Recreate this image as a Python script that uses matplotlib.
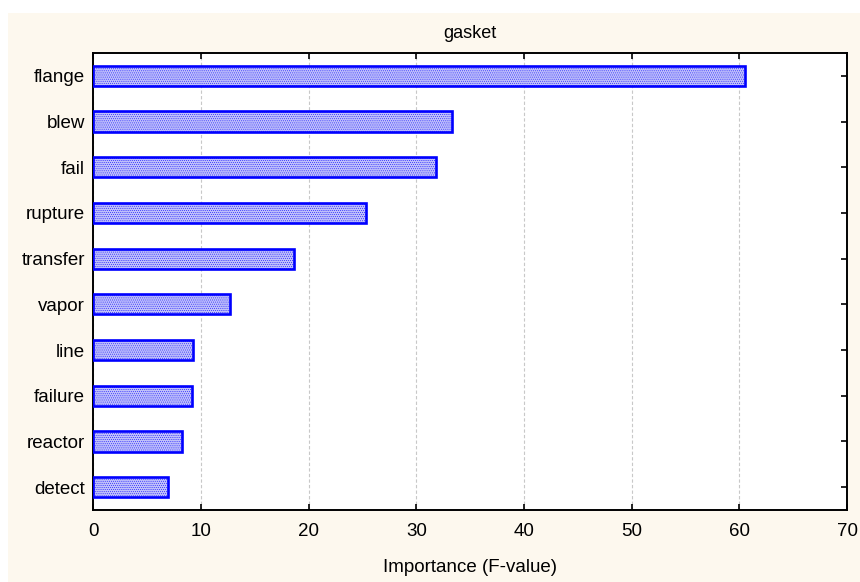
import matplotlib
matplotlib.use("Agg")
import matplotlib.pyplot as plt
from matplotlib.patches import Rectangle

terms = ["flange", "blew", "fail", "rupture", "transfer",
         "vapor", "line", "failure", "reactor", "detect"]
f_values = [60.5, 33.35, 31.85, 25.3, 18.65, 12.7, 9.3, 9.2, 8.25, 6.95]
x_ticks = [0, 10, 20, 30, 40, 50, 60, 70]

plt.rcParams["font.family"] = ["Liberation Sans", "DejaVu Sans"]
plt.rcParams["hatch.color"] = "#4848ff"
plt.rcParams["hatch.linewidth"] = 0.3

W, H = 860, 582
fig = plt.figure(figsize=(W / 100, H / 100), dpi=100, facecolor="white")

# cream panel behind the plot
panel = Rectangle((8 / W, 0), 1 - 8 / W, 1 - 13 / H, transform=fig.transFigure,
                  facecolor="#fdf8ee", edgecolor="none", zorder=-10)
fig.add_artist(panel)

left, right, top, bottom = 93.3, 847, 53, 510
ax = fig.add_axes([left / W, 1 - bottom / H, (right - left) / W, (bottom - top) / H])
ax.set_facecolor("white")

ypos = list(range(len(terms)))
ax.barh(ypos, f_values, height=0.44, color="#c0c0fa", edgecolor="#0000ff",
        linewidth=1.9, hatch="........", zorder=3)

ax.set_ylim(len(terms) - 0.5, -0.5)
ax.set_xlim(0, 70)
ax.set_xticks(x_ticks)
ax.set_xticklabels([str(t) for t in x_ticks])
ax.set_yticks(ypos)
ax.set_yticklabels(terms)

ax.grid(axis="x", color="#c8c8c8", linestyle=(0, (3, 2)), linewidth=0.8, zorder=1)
ax.tick_params(axis="both", direction="in", length=4, width=1.2, labelsize=13.5,
               top=True, right=True, labeltop=False, labelright=False)
ax.tick_params(axis="x", pad=9)
ax.tick_params(axis="y", pad=6)
for s in ax.spines.values():
    s.set_linewidth(1.4)
    s.set_color("black")

ax.set_title("gasket", fontsize=13, pad=11)
ax.set_xlabel("Importance (F-value)", fontsize=13.5, labelpad=14)

fig.savefig("out.png", dpi=100, facecolor=fig.get_facecolor())
